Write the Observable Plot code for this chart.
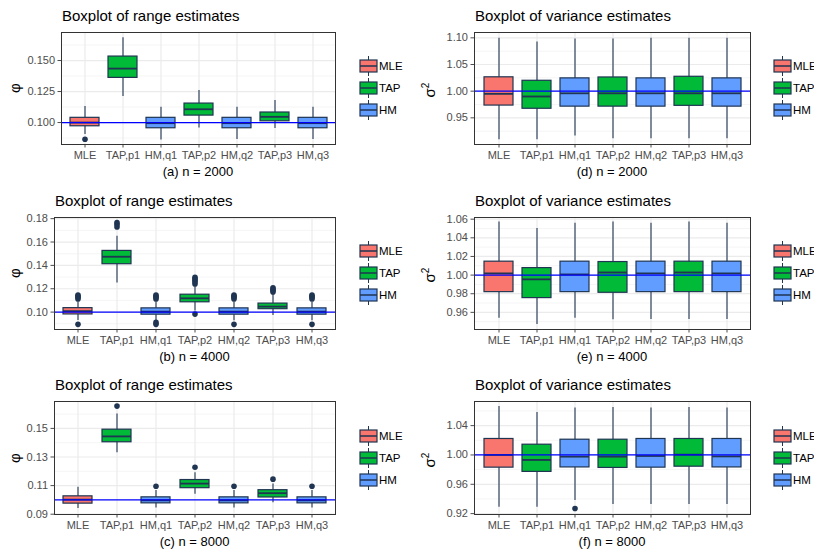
<!DOCTYPE html>
<html>
<head>
<meta charset="utf-8">
<script src="https://cdn.jsdelivr.net/npm/d3@7"></script>
<script src="https://cdn.jsdelivr.net/npm/@observablehq/plot@0.6"></script>
<style>
  body { margin: 0; background: #fff; }
  #root { position: relative; width: 814px; height: 552px; overflow: hidden; background: #fff;
          font-family: "Liberation Sans", Arial, Helvetica, sans-serif; }
  .abs { position: absolute; white-space: nowrap; }
  .title { font-size: 15px; color: #000; line-height: 20px; }
  .caption { font-size: 13px; color: #000; line-height: 18px; text-align: center; }
  .ylab { font-size: 15px; color: #000; line-height: 18px; transform: rotate(-90deg); transform-origin: center center; text-align: center; }
  .ylab sup { font-size: 10px; }
  .legtext { font-size: 11.5px; color: #000; line-height: 16px; }
</style>
</head>
<body>
<div id="root"></div>
<script>
// ---------- data ----------
const categories = ["MLE", "TAP,p1", "HM,q1", "TAP,p2", "HM,q2", "TAP,p3", "HM,q3"];
const methods = ["MLE", "TAP", "HM", "TAP", "HM", "TAP", "HM"];
const legendMethods = ["MLE", "TAP", "HM"];
const methodColors = ["#F8766D", "#00BA38", "#619CFF"];

// five-number rows per category: [lower whisker, q1, median, q3, upper whisker]
const rangeN2000 = [
  [0.0903, 0.0970, 0.1000, 0.1038, 0.1129],
  [0.1210, 0.1360, 0.1435, 0.1532, 0.1683],
  [0.0860, 0.0954, 0.0995, 0.1038, 0.1124],
  [0.0957, 0.1056, 0.1107, 0.1153, 0.1258],
  [0.0863, 0.0954, 0.0995, 0.1038, 0.1124],
  [0.0952, 0.1010, 0.1046, 0.1081, 0.1177],
  [0.0863, 0.0954, 0.0995, 0.1038, 0.1124]
];
const rangeN2000Out = [[0, 0.0865]];

const rangeN4000 = [
  [0.0927, 0.0980, 0.1008, 0.1034, 0.1085],
  [0.1250, 0.1410, 0.1474, 0.1524, 0.1650],
  [0.0925, 0.0978, 0.1004, 0.1032, 0.1085],
  [0.1010, 0.1084, 0.1118, 0.1149, 0.1215],
  [0.0925, 0.0978, 0.1004, 0.1032, 0.1085],
  [0.0970, 0.1025, 0.1047, 0.1073, 0.1155],
  [0.0925, 0.0978, 0.1004, 0.1032, 0.1085]
];
const rangeN4000Out = [
  [0, 0.1145], [0, 0.1135], [0, 0.1125], [0, 0.1112], [0, 0.0895],
  [1, 0.1766], [1, 0.1750], [1, 0.1729],
  [2, 0.1145], [2, 0.1135], [2, 0.1125], [2, 0.1112], [2, 0.0912], [2, 0.0895],
  [3, 0.1297], [3, 0.1285], [3, 0.1272], [3, 0.1258], [3, 0.1240], [3, 0.0983],
  [4, 0.1145], [4, 0.1135], [4, 0.1125], [4, 0.1112], [4, 0.0895],
  [5, 0.1208], [5, 0.1196], [5, 0.1185], [5, 0.1172],
  [6, 0.1145], [6, 0.1135], [6, 0.1125], [6, 0.1112], [6, 0.0895]
];

const rangeN8000 = [
  [0.0940, 0.0974, 0.1002, 0.1025, 0.1088],
  [0.1330, 0.1403, 0.1444, 0.1491, 0.1600],
  [0.0944, 0.0976, 0.0997, 0.1018, 0.1065],
  [0.1040, 0.1082, 0.1114, 0.1139, 0.1190],
  [0.0944, 0.0976, 0.0997, 0.1018, 0.1065],
  [0.0980, 0.1017, 0.1047, 0.1068, 0.1112],
  [0.0944, 0.0976, 0.0997, 0.1018, 0.1065]
];
const rangeN8000Out = [[1, 0.1656], [2, 0.1095], [3, 0.1228], [4, 0.1095], [5, 0.1145], [6, 0.1095]];

const varN2000 = [
  [0.909, 0.973, 0.995, 1.026, 1.099],
  [0.909, 0.967, 0.990, 1.0195, 1.092],
  [0.916, 0.971, 0.996, 1.024, 1.098],
  [0.911, 0.971, 0.996, 1.0257, 1.098],
  [0.911, 0.971, 0.996, 1.024, 1.099],
  [0.911, 0.9725, 0.996, 1.027, 1.099],
  [0.911, 0.971, 0.996, 1.024, 1.099]
];
const varN2000Out = [];

const varN4000 = [
  [0.9538, 0.9817, 1.0018, 1.0144, 1.0571],
  [0.9470, 0.9753, 0.9954, 1.0075, 1.0500],
  [0.9538, 0.9817, 1.0007, 1.0144, 1.0556],
  [0.9520, 0.9810, 1.0028, 1.0140, 1.0571],
  [0.9523, 0.9817, 1.0018, 1.0144, 1.0556],
  [0.9523, 0.9817, 1.0028, 1.0144, 1.0571],
  [0.9523, 0.9817, 1.0018, 1.0144, 1.0556]
];
const varN4000Out = [];

const varN8000 = [
  [0.9287, 0.9827, 1.0000, 1.0218, 1.0660],
  [0.9287, 0.9769, 0.9932, 1.0140, 1.0580],
  [0.9378, 0.9830, 0.9977, 1.0208, 1.0640],
  [0.9324, 0.9823, 0.9977, 1.0208, 1.0647],
  [0.9324, 0.9827, 0.9986, 1.0218, 1.0640],
  [0.9324, 0.9840, 1.0004, 1.0218, 1.0647],
  [0.9324, 0.9830, 0.9980, 1.0218, 1.0640]
];
const varN8000Out = [[2, 0.927]];

const trueRange = 0.1;
const trueVariance = 1.0;

const ticksA = [0.100, 0.125, 0.150];
const ticksB = [0.10, 0.12, 0.14, 0.16, 0.18];
const ticksC = [0.09, 0.11, 0.13, 0.15];
const ticksD = [0.95, 1.00, 1.05, 1.10];
const ticksE = [0.96, 0.98, 1.00, 1.02, 1.04, 1.06];
const ticksF = [0.92, 0.96, 1.00, 1.04];

// ---------- layout ----------
const navy = "#1F3552";
const panels = [
  {stats: rangeN2000, out: rangeN2000Out, truth: trueRange, ticks: ticksA, fmt: ".3f",
   domain: [0.0823, 0.1726], minor: [0.0875, 0.1125, 0.1375, 0.1625],
   title: "Boxplot of range estimates", caption: "(a) n = 2000", ylab: "φ",
   x0: 0, L: 61, R: 335, T: 32, B: 144, legX: 360},
  {stats: rangeN4000, out: rangeN4000Out, truth: trueRange, ticks: ticksB, fmt: ".2f",
   domain: [0.0851, 0.1810], minor: [0.09, 0.11, 0.13, 0.15, 0.17],
   title: "Boxplot of range estimates", caption: "(b) n = 4000", ylab: "φ",
   x0: 0, L: 54, R: 335, T: 217, B: 329, legX: 360},
  {stats: rangeN8000, out: rangeN8000Out, truth: trueRange, ticks: ticksC, fmt: ".2f",
   domain: [0.0898, 0.1688], minor: [0.10, 0.12, 0.14, 0.16],
   title: "Boxplot of range estimates", caption: "(c) n = 8000", ylab: "φ",
   x0: 0, L: 54, R: 335, T: 401, B: 514, legX: 360},
  {stats: varN2000, out: varN2000Out, truth: trueVariance, ticks: ticksD, fmt: ".2f",
   domain: [0.900, 1.110], minor: [0.925, 0.975, 1.025, 1.075],
   title: "Boxplot of variance estimates", caption: "(d) n = 2000", ylab: "σ<sup>2</sup>",
   x0: 405, L: 474, R: 750, T: 32, B: 144, legX: 774},
  {stats: varN4000, out: varN4000Out, truth: trueVariance, ticks: ticksE, fmt: ".2f",
   domain: [0.9416, 1.0618], minor: [0.95, 0.97, 0.99, 1.01, 1.03, 1.05],
   title: "Boxplot of variance estimates", caption: "(e) n = 4000", ylab: "σ<sup>2</sup>",
   x0: 405, L: 474, R: 750, T: 217, B: 329, legX: 774},
  {stats: varN8000, out: varN8000Out, truth: trueVariance, ticks: ticksF, fmt: ".2f",
   domain: [0.9188, 1.0729], minor: [0.94, 0.98, 1.02, 1.06],
   title: "Boxplot of variance estimates", caption: "(f) n = 8000", ylab: "σ<sup>2</sup>",
   x0: 405, L: 474, R: 750, T: 401, B: 514, legX: 774}
];

const root = document.getElementById("root");
function addDiv(cls, html, style) {
  const d = document.createElement("div");
  d.className = "abs " + cls;
  d.innerHTML = html;
  Object.assign(d.style, style);
  root.appendChild(d);
  return d;
}

for (const p of panels) {
  const rows = categories.map((c, i) => ({
    cat: c, method: methods[i],
    lo: p.stats[i][0], q1: p.stats[i][1], med: p.stats[i][2], q3: p.stats[i][3], hi: p.stats[i][4]
  }));
  const outs = p.out.map(([i, v]) => ({cat: categories[i], v}));
  const mTop = 5, mBottom = 22, mRight = 6;
  const mLeft = p.L - p.x0;
  const width = p.R + mRight - p.x0;
  const height = p.B - p.T + mTop + mBottom;

  const chart = Plot.plot({
    width, height,
    marginLeft: mLeft, marginRight: mRight, marginTop: mTop, marginBottom: mBottom,
    style: {fontFamily: '"Liberation Sans", Arial, Helvetica, sans-serif', fontSize: "11px",
            color: "#4D4D4D", background: "transparent", overflow: "visible"},
    x: {domain: categories, paddingInner: 0.25, paddingOuter: 0.225, label: null,
        tickSize: 3.5, tickPadding: 3},
    y: {domain: p.domain, ticks: p.ticks, tickFormat: d3.format(p.fmt), label: null,
        tickSize: 3.5, tickPadding: 3},
    color: {domain: legendMethods, range: methodColors},
    marks: [
      Plot.ruleY(p.minor, {stroke: "#F2F2F2", strokeWidth: 0.8}),
      Plot.ruleY(p.ticks, {stroke: "#EBEBEB", strokeWidth: 1.2}),
      Plot.ruleX(categories, {stroke: "#EBEBEB", strokeWidth: 1.2}),
      Plot.ruleX(rows, {x: "cat", y1: "lo", y2: "hi", stroke: navy, strokeWidth: 1.1}),
      Plot.barY(rows, {x: "cat", y1: "q1", y2: "q3", fill: "method", stroke: navy, strokeWidth: 1.2}),
      Plot.tickY(rows, {x: "cat", y: "med", stroke: navy, strokeWidth: 1.8}),
      Plot.dot(outs, {x: "cat", y: "v", r: 2.8, fill: navy, stroke: "none"}),
      Plot.ruleY([p.truth], {stroke: "#0000FF", strokeWidth: 1.2}),
      Plot.frame({stroke: "#333333", strokeWidth: 1})
    ]
  });
  chart.style.position = "absolute";
  chart.style.left = p.x0 + "px";
  chart.style.top = (p.T - mTop) + "px";
  root.appendChild(chart);

  // title
  addDiv("title", p.title, {left: (p.L + 1) + "px", top: (p.T - 16 - 10) + "px"});
  // caption
  addDiv("caption", p.caption, {left: p.L + "px", width: (p.R - p.L) + "px", top: (p.B + 28 - 9) + "px"});
  // y label
  const cy = (p.T + p.B) / 2;
  const lx = p.x0 === 0 ? 15 : 428;
  addDiv("ylab", p.ylab, {left: (lx - 20) + "px", width: "40px", top: (cy - 9) + "px"});
  // legend
  legendMethods.forEach((m, k) => {
    const ly = cy - 22 + k * 22;
    const key = document.createElementNS("http://www.w3.org/2000/svg", "svg");
    key.setAttribute("width", 19); key.setAttribute("height", 22);
    key.style.position = "absolute";
    key.style.left = (p.legX - 1) + "px";
    key.style.top = (ly - 11) + "px";
    key.innerHTML =
      `<line x1="9.5" x2="9.5" y1="1" y2="21" stroke="${navy}" stroke-width="1"/>` +
      `<rect x="1" y="5" width="17" height="12" fill="${methodColors[k]}" stroke="${navy}" stroke-width="1.2"/>` +
      `<line x1="1" x2="18" y1="11" y2="11" stroke="${navy}" stroke-width="1.5"/>`;
    root.appendChild(key);
    addDiv("legtext", m, {left: (p.legX + 19) + "px", top: (ly - 8) + "px"});
  });
}
</script>
</body>
</html>
